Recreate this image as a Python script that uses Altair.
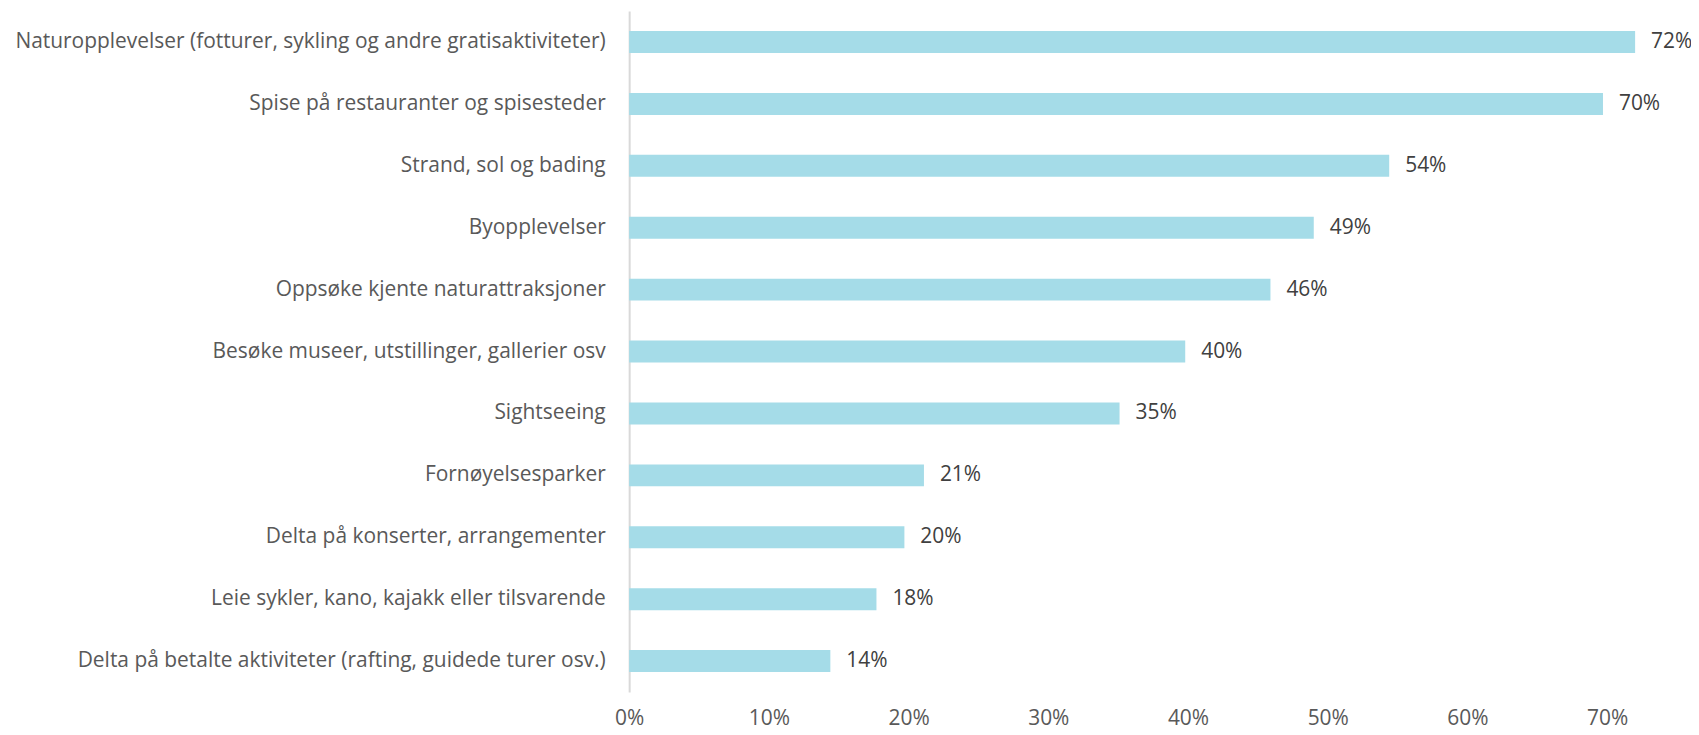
import altair as alt
import pandas as pd

categories = [
    "Naturopplevelser (fotturer, sykling og andre gratisaktiviteter)",
    "Spise på restauranter og spisesteder",
    "Strand, sol og bading",
    "Byopplevelser",
    "Oppsøke kjente naturattraksjoner",
    "Besøke museer, utstillinger, gallerier osv",
    "Sightseeing",
    "Fornøyelsesparker",
    "Delta på konserter, arrangementer",
    "Leie sykler, kano, kajakk eller tilsvarende",
    "Delta på betalte aktiviteter (rafting, guidede turer osv.)",
]
values = [0.72, 0.697, 0.544, 0.49, 0.459, 0.398, 0.351, 0.211, 0.197, 0.177, 0.144]
x_ticks = [0, 0.1, 0.2, 0.3, 0.4, 0.5, 0.6, 0.7]

df = pd.DataFrame({"kategori": categories, "andel": values})

FONT = "Open Sans"
TXT = "#595959"
FS = 21

y_enc = alt.Y(
    "kategori:N",
    sort=categories,
    title=None,
    scale=alt.Scale(paddingInner=0, paddingOuter=0),
    axis=alt.Axis(
        ticks=False,
        domain=True,
        domainColor="#d9d9d9",
        domainWidth=2,
        labelFont=FONT,
        labelFontSize=FS,
        labelColor=TXT,
        labelPadding=24,
        labelLimit=800,
        grid=False,
    ),
)
x_enc = alt.X(
    "andel:Q",
    title=None,
    scale=alt.Scale(domain=[0, 0.76], nice=False, zero=True),
    axis=alt.Axis(
        values=x_ticks,
        format=".0%",
        ticks=False,
        domain=False,
        grid=False,
        labelFlush=False,
        labelFont=FONT,
        labelFontSize=FS,
        labelColor=TXT,
        labelPadding=16,
    ),
)

bars = alt.Chart(df).mark_bar(size=22, color="#A5DCE8").encode(x=x_enc, y=y_enc)
labels = alt.Chart(df).mark_text(
    align="left", baseline="middle", dx=16, font=FONT, fontSize=FS, color="#404040"
).encode(x="andel:Q", y=alt.Y("kategori:N", sort=categories), text=alt.Text("andel:Q", format=".0%"))

chart = (
    alt.layer(bars, labels)
    .properties(
        width=1065,
        height=683,
        background="white",
        autosize=alt.AutoSizeParams(type="none"),
        padding={"left": 623, "top": 2, "right": 0, "bottom": 40},
    )
    .configure_view(strokeWidth=0, stroke="transparent")
)

chart.save("out.html", embed_options={"renderer": "svg", "actions": False})
